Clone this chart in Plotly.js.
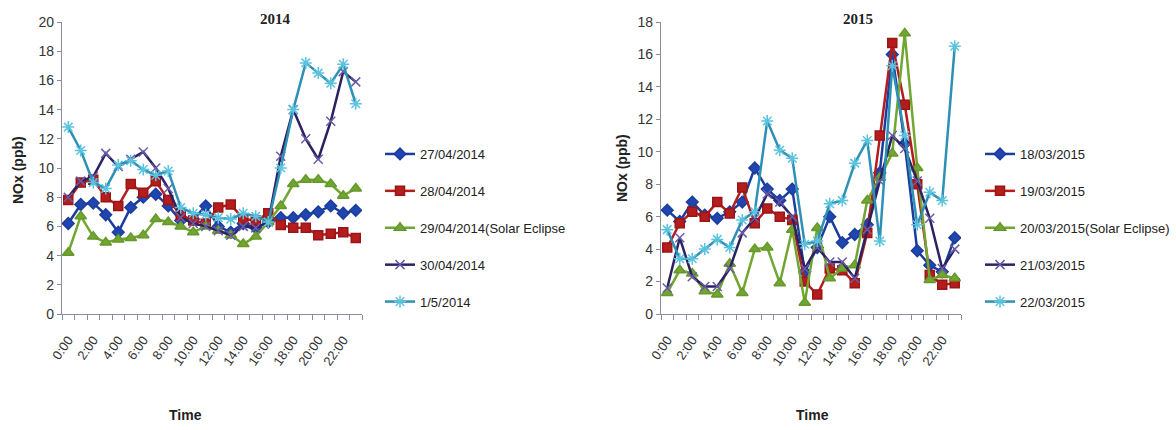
<!DOCTYPE html>
<html>
<head>
<meta charset="utf-8">
<script src="https://cdn.plot.ly/plotly-3.0.1.min.js"></script>
<style>
html,body{margin:0;padding:0;background:#fff;}
#chart{width:1176px;height:430px;}
</style>
</head>
<body>
<div id="chart"></div>
<script>
// ---- data ----
const hours = ["0:00","1:00","2:00","3:00","4:00","5:00","6:00","7:00","8:00","9:00","10:00","11:00",
               "12:00","13:00","14:00","15:00","16:00","17:00","18:00","19:00","20:00","21:00","22:00","23:00"];
const tickLabels = ["0:00","2:00","4:00","6:00","8:00","10:00","12:00","14:00","16:00","18:00","20:00","22:00"];

const names2014 = ["27/04/2014","28/04/2014","29/04/2014(Solar Eclipse","30/04/2014","1/5/2014"];
const d27_04_2014 = [6.2,7.5,7.6,6.8,5.6,7.3,8.0,8.2,7.4,6.4,6.5,7.4,6.0,5.6,6.2,5.9,6.3,6.6,6.6,6.8,7.0,7.4,6.9,7.1];
const d28_04_2014 = [7.8,9.0,9.2,8.0,7.4,8.9,8.3,9.1,7.8,6.8,6.4,6.2,7.3,7.5,6.5,6.4,6.9,6.1,5.9,5.9,5.4,5.5,5.6,5.2];
const d29_04_2014 = [4.2,6.7,5.3,4.9,5.1,5.2,5.4,6.5,6.3,6.0,5.6,6.0,5.7,5.4,4.8,5.3,6.3,7.4,8.9,9.2,9.2,8.9,8.1,8.6];
const d30_04_2014 = [8.0,9.1,9.4,11.0,10.1,10.6,11.1,10.0,8.6,6.6,6.2,6.0,5.7,5.4,6.0,5.9,6.3,10.8,14.0,12.0,10.6,13.2,16.6,15.9];
const d01_05_2014 = [12.8,11.2,9.0,8.6,10.2,10.5,9.9,9.5,9.8,7.3,6.9,6.8,6.6,6.5,6.9,6.7,6.3,10.0,14.0,17.2,16.5,15.8,17.1,14.4];

const names2015 = ["18/03/2015","19/03/2015","20/03/2015(Solar Eclipse)","21/03/2015","22/03/2015"];
const d18_03_2015 = [6.4,5.7,6.9,6.1,5.9,6.3,6.9,9.0,7.7,7.0,7.7,2.6,4.1,6.0,4.4,4.9,5.5,8.7,16.0,10.5,3.9,3.0,2.6,4.7];
const d19_03_2015 = [4.1,5.6,6.3,6.0,6.9,6.2,7.8,5.6,6.5,6.0,5.8,2.0,1.2,2.8,2.7,1.9,5.0,11.0,16.7,12.9,8.0,2.4,1.8,1.9];
const d20_03_2015 = [1.3,2.7,2.5,1.4,1.2,3.1,1.3,4.0,4.1,1.9,5.2,0.7,5.3,2.2,2.8,3.0,7.0,8.4,9.9,17.3,9.0,2.1,2.4,2.2];
const d21_03_2015 = [1.6,4.7,2.3,1.7,1.7,2.8,5.0,5.9,7.4,6.9,6.0,2.8,4.1,3.2,3.2,2.2,5.2,8.2,11.0,10.2,8.2,5.9,2.8,4.0];
const d22_03_2015 = [5.2,3.4,3.4,4.0,4.6,4.1,5.8,6.3,11.9,10.1,9.6,4.3,4.5,6.8,7.0,9.3,10.7,4.5,15.3,11.0,5.5,7.5,7.0,16.5];

// ---- styles ----
const styles = [
  {line:"#1c3d9c", mfill:"#1f46b0", mline:"#1c3d9c", symbol:"diamond", size:9},
  {line:"#b31d1d", mfill:"#b31d1d", mline:"#9c1515", symbol:"square", size:9},
  {line:"#72a632", mfill:"#72a632", mline:"#66982b", symbol:"triangle-up", size:10},
  {line:"#2b2262", mfill:"#6c5aa8", mline:"#6c5aa8", symbol:"x-thin-open", size:9},
  {line:"#2e90b6", mfill:"#5cc3df", mline:"#5cc3df", symbol:"asterisk-open", size:10}
];

const xIdx = hours.map((h, i) => i);
const tickIdx = tickLabels.map(t => hours.indexOf(t));

function mk(name, y, st, xa, ya, leg, grp) {
  return {
    type: "scatter", mode: "lines+markers", name: name,
    x: xIdx, y: y, xaxis: xa, yaxis: ya, legend: leg, legendgroup: grp,
    text: hours, hovertemplate: "%{text}: %{y}<extra>" + name + "</extra>",
    line: {color: st.line, width: 2.5},
    marker: {symbol: st.symbol, size: st.size, color: st.mfill, line: {color: st.mline, width: 1.5}}
  };
}

const s2014 = [d27_04_2014, d28_04_2014, d29_04_2014, d30_04_2014, d01_05_2014];
const s2015 = [d18_03_2015, d19_03_2015, d20_03_2015, d21_03_2015, d22_03_2015];
const traces = [];
s2014.forEach((y, i) => traces.push(mk(names2014[i], y, styles[i], "x", "y", "legend", "a" + i)));
s2015.forEach((y, i) => traces.push(mk(names2015[i], y, styles[i], "x2", "y2", "legend2", "b" + i)));

const axisCol = "#8a8aa0";
const sans = "Liberation Sans, Arial, sans-serif";
const xTickFont = {family: sans, size: 13, color: "#333"};
const yTickFont = {family: sans, size: 14, color: "#333"};

function xax(domain, anchor) {
  return {
    domain: domain, anchor: anchor, range: [-0.5, 23.5],
    tickmode: "array", tickvals: tickIdx, ticktext: tickLabels, tickangle: -55,
    ticks: "", tickfont: xTickFont, ticklabelstandoff: 12, showgrid: false, zeroline: false,
    showline: true, linecolor: axisCol, linewidth: 1.2,
    minor: {tickmode: "linear", tick0: 0.5, dtick: 1, ticks: "outside", ticklen: 5, tickcolor: axisCol, showgrid: false}
  };
}
function yax(domain, anchor, max) {
  return {
    domain: domain, anchor: anchor, range: [0, max], dtick: 2, tick0: 0,
    ticks: "outside", ticklen: 4, tickcolor: axisCol, tickfont: yTickFont,
    showgrid: false, zeroline: false, showline: true, linecolor: axisCol, linewidth: 1.2
  };
}

const W = 1176, H = 430;
const px = v => v / W, py = v => 1 - v / H;

function legendAt(x, y) {
  return {
    x: px(x), y: py(y), xanchor: "left", yanchor: "top",
    font: {family: sans, size: 13, color: "#222"},
    traceorder: "grouped", tracegroupgap: 17, bgcolor: "rgba(0,0,0,0)", itemwidth: 30
  };
}

function ann(text, x, y, font, angle) {
  return {text: text, x: px(x), y: py(y), xref: "paper", yref: "paper", showarrow: false,
          xanchor: "center", yanchor: "middle", textangle: angle || 0, font: font};
}
const serifTitle = {family: "Liberation Serif, Times New Roman, serif", size: 15, color: "#222"};
const sansTitle = {family: sans, size: 14, color: "#222"};

const layout = {
  width: W, height: H,
  margin: {l: 0, r: 0, t: 0, b: 0},
  paper_bgcolor: "#fff", plot_bgcolor: "#fff",
  showlegend: true,
  xaxis: xax([px(62), px(362)], "y"),
  yaxis: yax([py(314), py(22)], "x", 20),
  xaxis2: xax([px(661), px(961)], "y2"),
  yaxis2: yax([py(314), py(22)], "x2", 18),
  legend: legendAt(380, 139),
  legend2: legendAt(980, 139),
  annotations: [
    ann("<b>2014</b>", 275, 19, serifTitle),
    ann("<b>2015</b>", 858, 19, serifTitle),
    ann("<b>NOx (ppb)</b>", 18, 170, sansTitle, -90),
    ann("<b>NOx (ppb)</b>", 622, 168, sansTitle, -90),
    ann("<b>Time</b>", 185, 415, sansTitle),
    ann("<b>Time</b>", 812, 415, sansTitle)
  ]
};

Plotly.newPlot("chart", traces, layout, {displayModeBar: false, staticPlot: true});
</script>
</body>
</html>
